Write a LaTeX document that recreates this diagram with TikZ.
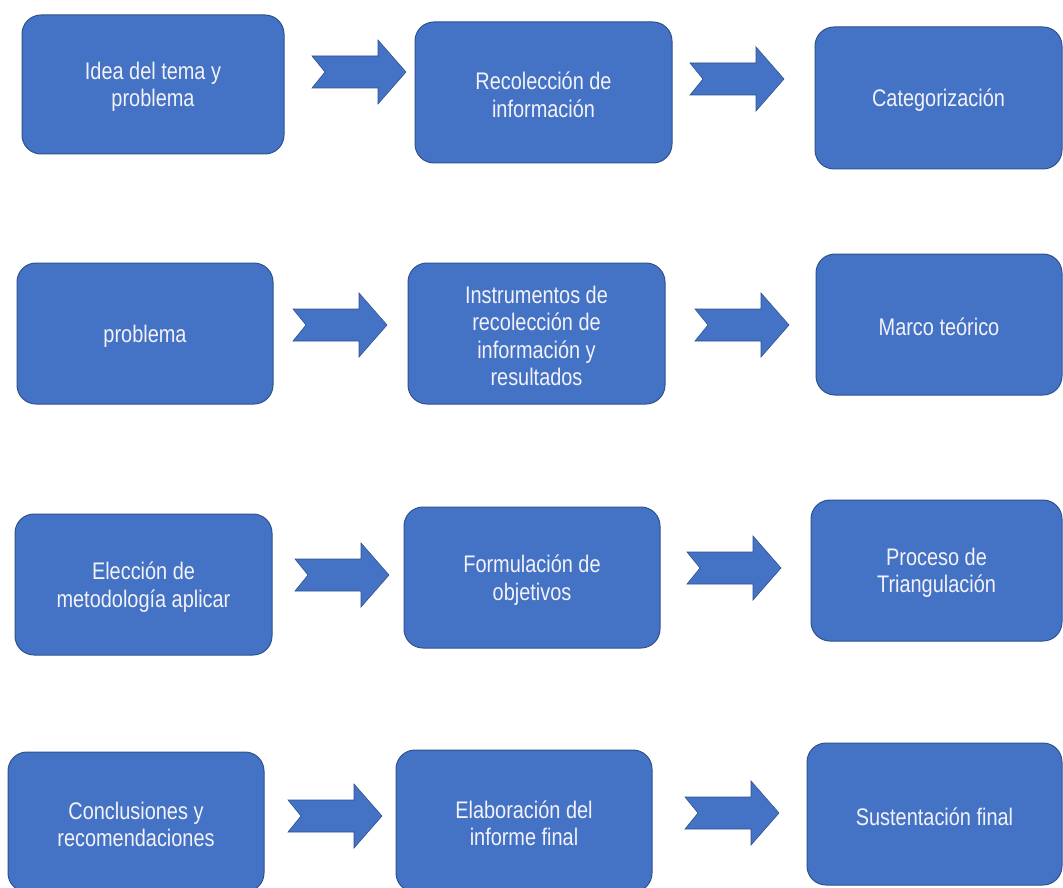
\documentclass[tikz,border=0pt]{standalone}
\usepackage{fontspec}
\setmainfont{Liberation Sans}[FakeStretch=0.83]
\definecolor{boxfill}{HTML}{4472C4}
\definecolor{boxline}{HTML}{2F528F}
\definecolor{boxtext}{HTML}{F2F2F8}
\tikzset{
  flowbox/.style={rounded corners=19pt, fill=boxfill, draw=boxline, line width=1pt,
    inner sep=0pt},
  flowtext/.style={text=boxtext, align=center, inner sep=0pt,
    font=\fontsize{24}{27.5}\selectfont, yshift=-2.5pt},
  blockarrow/.style={fill=boxfill, draw=boxline, line width=0.6pt, line join=miter}
}
\newcommand{\bx}[6]{%
  \node[flowbox, minimum width={#4-#2}, minimum height={#5-#3},
    label={[flowtext]center:{#6}}] (#1)
    at ({(#2+#4)/2},{-(#3+#5)/2}) {};}
% block arrow: name, left x, centre y
\newcommand{\barrow}[3]{%
  \coordinate (#1) at (#2,-#3);
  \draw[blockarrow] (#1) ++(0,16) -- ++(66,0) -- ++(0,16) -- ++(28,-32)
     -- ++(-28,-32) -- ++(0,16) -- ++(-66,0) -- ++(13,16) -- cycle;}
\begin{document}
\begin{tikzpicture}[x=1pt,y=1pt]
\useasboundingbox (0,0) rectangle (1063,-888);
\clip (0,0) rectangle (1063,-888);
\fill[white] (0,0) rectangle (1063,-888);
% row 1
\bx{b1}{22}{15}{284}{154}{Idea del tema y\\problema}
\bx{b2}{415}{22}{672}{163}{Recolección de\\información}
\bx{b3}{815}{27}{1062}{169}{Categorización}
% row 2
\bx{b4}{17}{263}{273}{404}{problema}
\bx{b5}{408}{263}{665}{404}{Instrumentos de\\recolección de\\información y\\resultados}
\bx{b6}{816}{254}{1062}{395}{Marco teórico}
% row 3
\bx{b7}{15}{514}{272}{655}{Elección de\\metodología aplicar}
\bx{b8}{404}{507}{660}{648}{Formulación de\\objetivos}
\bx{b9}{811}{500}{1062}{641}{Proceso de\\Triangulación}
% row 4
\bx{b10}{8}{752}{264}{892}{Conclusiones y\\recomendaciones}
\bx{b11}{396}{750}{652}{892}{Elaboración del\\informe final}
\bx{b12}{807}{743}{1062}{885}{Sustentación final}
% arrows
\barrow{a1}{312}{72}
\barrow{a2}{690}{79}
\barrow{a3}{293}{325}
\barrow{a4}{695}{325}
\barrow{a5}{295}{575}
\barrow{a6}{687}{568}
\barrow{a7}{288}{816}
\barrow{a8}{685}{813}
\end{tikzpicture}
\end{document}
